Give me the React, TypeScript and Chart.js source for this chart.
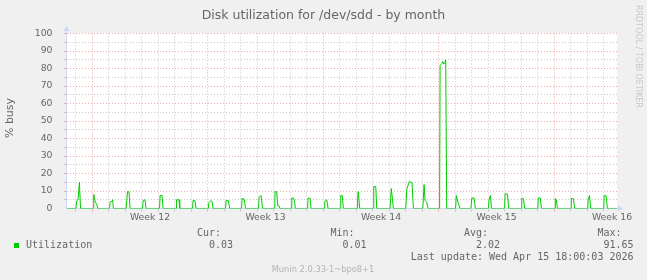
import React, { useEffect, useRef } from 'react';
import { Chart, registerables } from 'chart.js';

Chart.register(...registerables);

// ---------- data ----------
const TITLE = 'Disk utilization for /dev/sdd - by month';
const Y_LABEL = '% busy';
const TOTAL_DAYS = 33.33; // days shown on the time axis
const FIRST_WEEK_DAY = 1.533; // day offset of first week boundary
const WEEK_LABELS = ['Week 12', 'Week 13', 'Week 14', 'Week 15', 'Week 16'];
const WEEK_LABEL_DAYS = [5.03, 12.03, 19.03, 26.03, 33.03];
const Y_GRID = [0, 5, 10, 15, 20, 25, 30, 35, 40, 45, 50, 55, 60, 65, 70, 75, 80, 85, 90, 95, 100];
const SERIES_NAME = 'Utilization';
const LEGEND_HEADERS = ['Cur:', 'Min:', 'Avg:', 'Max:'];
const LEGEND_VALUES = ['0.03', '0.01', '2.02', '91.65'];
const LAST_UPDATE = 'Last update: Wed Apr 15 18:00:03 2026';
const FOOTER = 'Munin 2.0.33-1~bpo8+1';
const WATERMARK = 'RRDTOOL / TOBI OETIKER';

// [day, % busy]
const utilization: [number, number][] = [
  [0, 0.03],
  [0.54, 0.03], [0.59, 4.5], [0.67, 5], [0.75, 15], [0.82, 0.03],
  [1.59, 0.03], [1.62, 8], [1.72, 3.5], [1.8, 2.5], [1.86, 0.03],
  [2.58, 0.03], [2.61, 3.6], [2.73, 4.2], [2.77, 5], [2.81, 0.03],
  [3.58, 0.03], [3.67, 9.7], [3.76, 9.5], [3.82, 0.03],
  [4.58, 0.03], [4.61, 4.5], [4.73, 5], [4.79, 0.03],
  [5.61, 0.03], [5.64, 7.4], [5.76, 7.4], [5.82, 0.03],
  [6.61, 0.03], [6.64, 5], [6.79, 5], [6.83, 0.03],
  [7.61, 0.03], [7.64, 4.6], [7.76, 4.4], [7.82, 0.03],
  [8.55, 0.03], [8.57, 3], [8.73, 4.6], [8.79, 4], [8.85, 0.03],
  [9.61, 0.03], [9.64, 4.6], [9.78, 4.4], [9.86, 0.03],
  [10.58, 0.03], [10.61, 5.7], [10.73, 5.5], [10.82, 0.03],
  [11.61, 0.03], [11.64, 6.5], [11.76, 7.4], [11.85, 0.03],
  [12.59, 0.03], [12.61, 9.7], [12.71, 9.5], [12.77, 1.7], [12.85, 1.5], [12.91, 0.03],
  [13.59, 0.03], [13.62, 6], [13.72, 6], [13.78, 4.5], [13.84, 0.03],
  [14.58, 0.03], [14.61, 6], [14.73, 5.8], [14.79, 0.03],
  [15.59, 0.03], [15.62, 4], [15.74, 5], [15.82, 0.03],
  [16.56, 0.03], [16.59, 7.4], [16.68, 7.4], [16.75, 0.03],
  [17.58, 0.03], [17.61, 5], [17.65, 9.7], [17.74, 0.03],
  [18.56, 0.03], [18.59, 12.6], [18.71, 12.6], [18.77, 0.03],
  [19.58, 0.03], [19.65, 11.4], [19.72, 5.5], [19.78, 0.03],
  [20.53, 0.03], [20.59, 11], [20.75, 15.6], [20.85, 14.8], [20.91, 14.8], [20.99, 0.03],
  [21.56, 0.03], [21.64, 13.7], [21.7, 4.6], [21.8, 3.5], [21.88, 0.03],
  [22.58, 0.03], [22.61, 81.7], [22.71, 82.7], [22.77, 84], [22.83, 82.5], [22.89, 83.3], [22.95, 85], [23.01, 0.03],
  [23.55, 0.03], [23.59, 7.4], [23.72, 2.7], [23.82, 0.03],
  [24.48, 0.03], [24.53, 6], [24.67, 6], [24.75, 0.03],
  [25.53, 0.03], [25.58, 5], [25.66, 7.4], [25.72, 0.03],
  [26.52, 0.03], [26.55, 8.4], [26.69, 8.2], [26.77, 0.03],
  [27.52, 0.03], [27.56, 6], [27.66, 5.5], [27.74, 0.03],
  [28.53, 0.03], [28.56, 6], [28.68, 6], [28.75, 0.03],
  [29.58, 0.03], [29.59, 5.7], [29.65, 5], [29.72, 0.03],
  [30.55, 0.03], [30.56, 5.7], [30.68, 5.7], [30.77, 0.03],
  [31.56, 0.03], [31.58, 5], [31.66, 7.4], [31.74, 0.03],
  [32.53, 0.03], [32.55, 7.4], [32.67, 7.2], [32.75, 0.03],
  [33.33, 0.03],
];

// ---------- style ----------
const BG = '#f0f0f0';
const CANVAS = '#ffffff';
const GRID = 'rgba(150,150,150,0.5)';
const MGRID = 'rgba(230,90,90,0.5)';
const AXIS = '#cfd6f8';
const FONT = '#666666';
const LINE = '#00cc00';
const SANS = '"DejaVu Sans", sans-serif';
const MONO = '"DejaVu Sans Mono", monospace';

const muninPlugin = {
  id: 'munin',
  beforeDraw(chart: any) {
    const { ctx, chartArea: a, width, height } = chart;
    ctx.save();
    ctx.fillStyle = BG;
    ctx.fillRect(0, 0, width, height);
    ctx.fillStyle = CANVAS;
    ctx.fillRect(a.left, Math.floor(a.top), a.right - a.left, Math.ceil(a.bottom) - Math.floor(a.top));
    ctx.restore();
  },
  beforeDatasetsDraw(chart: any) {
    const { ctx, chartArea: a, scales } = chart;
    const xs = scales.x;
    const ys = scales.y;
    const top = Math.floor(a.top);
    const bottom = Math.floor(a.bottom) + 0.5;
    ctx.save();
    ctx.lineWidth = 1;
    // horizontal grid
    for (const v of Y_GRID) {
      if (v === 0) continue;
      const y = Math.floor(ys.getPixelForValue(v)) + 0.5;
      const c = v % 10 === 0 ? MGRID : GRID;
      ctx.strokeStyle = c;
      ctx.setLineDash([1, 2]);
      ctx.beginPath();
      ctx.moveTo(a.left, y);
      ctx.lineTo(a.right, y);
      ctx.stroke();
      ctx.setLineDash([]);
      ctx.beginPath();
      ctx.moveTo(a.left - 3, y);
      ctx.lineTo(a.left - 1, y);
      ctx.stroke();
    }
    // vertical grid (days, weeks)
    for (let d = FIRST_WEEK_DAY - 1; d < TOTAL_DAYS; d += 1) {
      const k = Math.round(d - FIRST_WEEK_DAY);
      const isWeek = ((k % 7) + 7) % 7 === 0;
      const x = Math.floor(xs.getPixelForValue(d)) + 0.5;
      ctx.strokeStyle = isWeek ? MGRID : GRID;
      ctx.setLineDash([1, 2]);
      ctx.beginPath();
      ctx.moveTo(x, bottom);
      ctx.lineTo(x, top);
      ctx.stroke();
      ctx.setLineDash([]);
      ctx.beginPath();
      ctx.moveTo(x, bottom + 1);
      ctx.lineTo(x, bottom + 3);
      ctx.stroke();
    }
    // axes with arrows
    const ax = Math.floor(a.left) - 0.5;
    ctx.setLineDash([]);
    ctx.strokeStyle = AXIS;
    ctx.fillStyle = AXIS;
    ctx.beginPath();
    ctx.moveTo(ax, bottom);
    ctx.lineTo(ax, top - 2);
    ctx.stroke();
    ctx.beginPath();
    ctx.moveTo(ax - 3, top - 2);
    ctx.lineTo(ax + 3, top - 2);
    ctx.lineTo(ax, top - 7);
    ctx.closePath();
    ctx.fill();
    ctx.beginPath();
    ctx.moveTo(ax, bottom);
    ctx.lineTo(a.right + 2, bottom);
    ctx.stroke();
    ctx.beginPath();
    ctx.moveTo(a.right + 1, bottom - 3);
    ctx.lineTo(a.right + 1, bottom + 3);
    ctx.lineTo(a.right + 6, bottom);
    ctx.closePath();
    ctx.fill();
    ctx.restore();
  },
  afterDraw(chart: any) {
    const { ctx } = chart;
    ctx.save();
    ctx.fillStyle = FONT;
    // title
    ctx.font = `12.5px ${SANS}`;
    ctx.textAlign = 'center';
    ctx.textBaseline = 'alphabetic';
    ctx.fillText(TITLE, 323.5, 18.5);
    // y axis label
    ctx.save();
    ctx.font = `11px ${SANS}`;
    ctx.translate(10, 118);
    ctx.rotate(-Math.PI / 2);
    ctx.textAlign = 'center';
    ctx.textBaseline = 'middle';
    ctx.fillText(Y_LABEL, 0, 0);
    ctx.restore();
    // legend
    ctx.font = `10px ${MONO}`;
    ctx.textBaseline = 'middle';
    const headerX = [197, 330.5, 464, 597.5];
    const valueRight = [233, 366.5, 500, 633.5];
    ctx.textAlign = 'left';
    LEGEND_HEADERS.forEach((h, i) => ctx.fillText(h, headerX[i], 233));
    ctx.fillText(SERIES_NAME, 26, 245.5);
    ctx.textAlign = 'right';
    LEGEND_VALUES.forEach((v, i) => ctx.fillText(v, valueRight[i], 245.5));
    ctx.fillText(LAST_UPDATE, 633.5, 257.5);
    ctx.fillStyle = LINE;
    ctx.fillRect(14, 243, 5, 5);
    // footer
    ctx.fillStyle = '#b4b4b4';
    ctx.font = `8.3px ${SANS}`;
    ctx.textAlign = 'center';
    ctx.fillText(FOOTER, 323, 269.5);
    // watermark
    ctx.fillStyle = '#c8c8c8';
    ctx.font = `8px ${SANS}`;
    ctx.translate(638, 5);
    ctx.rotate(Math.PI / 2);
    ctx.textAlign = 'left';
    ctx.textBaseline = 'middle';
    ctx.fillText(WATERMARK, 0, 0);
    ctx.restore();
  },
};

export default function App() {
  const ref = useRef<HTMLCanvasElement | null>(null);
  useEffect(() => {
    if (!ref.current) return;
    const chart = new Chart(ref.current, {
      type: 'line',
      data: {
        datasets: [
          {
            label: SERIES_NAME,
            data: utilization.map(([x, y]) => ({ x, y })),
            borderColor: LINE,
            borderWidth: 1,
            pointRadius: 0,
            fill: false,
            tension: 0,
          },
        ],
      },
      options: {
        animation: false,
        responsive: false,
        devicePixelRatio: 1,
        events: [],
        layout: { padding: { left: 0, right: 30, top: 33.5, bottom: 0 } },
        plugins: { legend: { display: false }, tooltip: { enabled: false }, title: { display: false } },
        scales: {
          x: {
            type: 'linear',
            min: 0,
            max: TOTAL_DAYS,
            grid: { display: false },
            border: { display: false },
            afterBuildTicks: (s: any) => {
              s.ticks = WEEK_LABEL_DAYS.map((v) => ({ value: v }));
            },
            afterFit: (s: any) => {
              s.height = 71.5;
            },
            ticks: {
              autoSkip: false,
              maxRotation: 0,
              minRotation: 0,
              padding: -4,
              color: FONT,
              font: { family: SANS, size: 9.3 },
              callback: (_v: any, i: number) => WEEK_LABELS[i],
            },
          },
          y: {
            type: 'linear',
            min: 0,
            max: 100,
            grid: { display: false },
            border: { display: false },
            afterFit: (s: any) => {
              s.width = 67;
            },
            ticks: {
              stepSize: 10,
              padding: 6.5,
              color: FONT,
              font: { family: SANS, size: 9.3 },
            },
          },
        },
      },
      plugins: [muninPlugin],
    } as any);
    return () => chart.destroy();
  }, []);
  return (
    <div style={{ position: 'absolute', left: 0, top: 0, width: 647, height: 280, background: BG }}>
      <canvas ref={ref} width={647} height={280} style={{ display: 'block' }} />
    </div>
  );
}
